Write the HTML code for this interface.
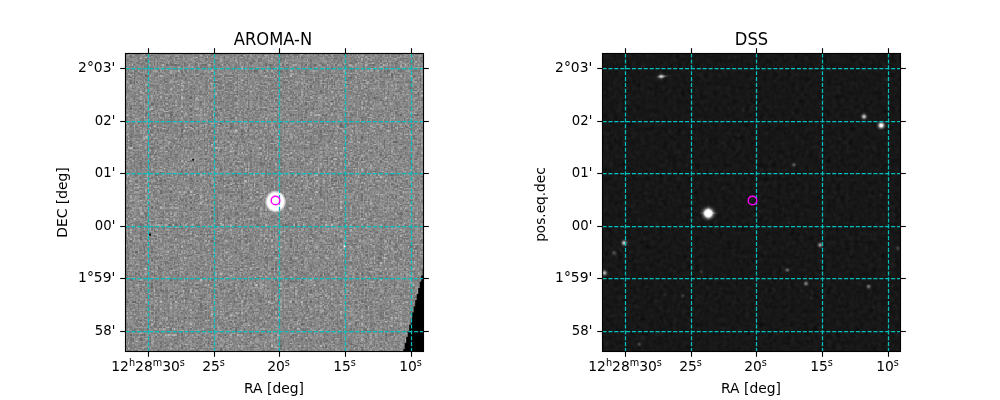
<!DOCTYPE html>
<html><head><meta charset="utf-8"><title>AROMA-N / DSS</title>
<style>
html,body{margin:0;padding:0;background:#fff;}
svg{display:block}
text{font-family:"DejaVu Sans","Liberation Sans",sans-serif;fill:#000}
.tl{font-size:13.89px}
.ti{font-size:16.67px}
.g{stroke:#00bfbf;stroke-width:1.25;stroke-dasharray:4.11 1.78;fill:none}
.t{stroke:#000;stroke-width:1.11}
.f{fill:none;stroke:#000;stroke-width:1.11}
.m{fill:none;stroke:#ff00ff;stroke-width:1.4}
</style></head><body>
<svg width="1000" height="400" viewBox="0 0 1000 400">
<defs>
<filter id="n1" filterUnits="userSpaceOnUse" x="125" y="53" width="300" height="300" color-interpolation-filters="sRGB">
<feTurbulence type="fractalNoise" baseFrequency="0.7" numOctaves="2" seed="3" result="t"/>
<feColorMatrix in="t" type="matrix" values="0.7 0.7 0.7 0.7 -0.85  0.7 0.7 0.7 0.7 -0.85  0.7 0.7 0.7 0.7 -0.85  0 0 0 0 1" result="n0"/>
<feComponentTransfer in="n0" result="n"><feFuncR type="gamma" amplitude="0.41" exponent="1.5" offset="0.362"/><feFuncG type="gamma" amplitude="0.41" exponent="1.5" offset="0.362"/><feFuncB type="gamma" amplitude="0.41" exponent="1.5" offset="0.362"/></feComponentTransfer>
<feFlood flood-color="#000" x="125" y="53" width="1" height="300" result="cx2f0"/>
<feFlood flood-color="#000" x="130" y="53" width="1" height="300" result="cx2f1"/>
<feFlood flood-color="#000" x="136" y="53" width="1" height="300" result="cx2f2"/>
<feMerge x="125" y="53" width="15" height="300" result="cx2m"><feMergeNode in="cx2f0"/><feMergeNode in="cx2f1"/><feMergeNode in="cx2f2"/></feMerge>
<feTile in="cx2m" result="cx2"/>
<feFlood flood-color="#000" x="127" y="53" width="3" height="300" result="cx1f0"/>
<feFlood flood-color="#000" x="132" y="53" width="4" height="300" result="cx1f1"/>
<feFlood flood-color="#000" x="138" y="53" width="2" height="300" result="cx1f2"/>
<feMerge x="125" y="53" width="15" height="300" result="cx1m"><feMergeNode in="cx1f0"/><feMergeNode in="cx1f1"/><feMergeNode in="cx1f2"/></feMerge>
<feTile in="cx1m" result="cx1"/>
<feComposite in="n" in2="cx2" operator="in" result="s0"/>
<feComposite in="n" in2="cx1" operator="in" result="s2"/>
<feOffset in="s0" dx="1" dy="0" result="s0o"/>
<feMerge result="h"><feMergeNode in="s0"/><feMergeNode in="s0o"/><feMergeNode in="s2"/></feMerge>
<feFlood flood-color="#000" x="125" y="53" width="300" height="1" result="cy2f0"/>
<feFlood flood-color="#000" x="125" y="59" width="300" height="1" result="cy2f1"/>
<feMerge x="125" y="53" width="300" height="11" result="cy2m"><feMergeNode in="cy2f0"/><feMergeNode in="cy2f1"/></feMerge>
<feTile in="cy2m" result="cy2"/>
<feFlood flood-color="#000" x="125" y="55" width="300" height="4" result="cy1f0"/>
<feFlood flood-color="#000" x="125" y="61" width="300" height="3" result="cy1f1"/>
<feMerge x="125" y="53" width="300" height="11" result="cy1m"><feMergeNode in="cy1f0"/><feMergeNode in="cy1f1"/></feMerge>
<feTile in="cy1m" result="cy1"/>
<feComposite in="h" in2="cy2" operator="in" result="r0"/>
<feComposite in="h" in2="cy1" operator="in" result="r2"/>
<feOffset in="r0" dx="0" dy="1" result="r0o"/>
<feMerge result="o"><feMergeNode in="r0"/><feMergeNode in="r0o"/><feMergeNode in="r2"/></feMerge>
<feConvolveMatrix in="o" order="3" kernelMatrix="0 1 0 1 8 1 0 1 0" divisor="12" edgeMode="duplicate" preserveAlpha="true"/>
</filter>
<filter id="n2" x="0" y="0" width="100%" height="100%" color-interpolation-filters="sRGB">
<feTurbulence type="fractalNoise" baseFrequency="0.22" numOctaves="2" seed="7" result="t"/>
<feColorMatrix in="t" type="matrix" values="0.045 0.045 0.045 0.045 0  0.045 0.045 0.045 0.045 0  0.045 0.045 0.045 0.045 0  0 0 0 0 1"/>
</filter>
<radialGradient id="s1"><stop offset="0" stop-color="#fff"/><stop offset="0.74" stop-color="#fff"/><stop offset="0.86" stop-color="#fff" stop-opacity="0.55"/><stop offset="1" stop-color="#fff" stop-opacity="0"/></radialGradient>
<radialGradient id="sb"><stop offset="0" stop-color="#fff"/><stop offset="0.3" stop-color="#fff"/><stop offset="0.44" stop-color="#fff" stop-opacity="0.88"/><stop offset="0.56" stop-color="#fff" stop-opacity="0.48"/><stop offset="0.7" stop-color="#fff" stop-opacity="0.2"/><stop offset="0.85" stop-color="#fff" stop-opacity="0.07"/><stop offset="1" stop-color="#fff" stop-opacity="0"/></radialGradient>
<radialGradient id="ss"><stop offset="0" stop-color="#fff"/><stop offset="0.2" stop-color="#fff" stop-opacity="0.85"/><stop offset="0.45" stop-color="#fff" stop-opacity="0.38"/><stop offset="0.7" stop-color="#fff" stop-opacity="0.1"/><stop offset="1" stop-color="#fff" stop-opacity="0"/></radialGradient>
<radialGradient id="sc"><stop offset="0" stop-color="#fff"/><stop offset="0.2" stop-color="#fff"/><stop offset="0.42" stop-color="#fff" stop-opacity="0.55"/><stop offset="0.7" stop-color="#fff" stop-opacity="0.12"/><stop offset="1" stop-color="#fff" stop-opacity="0"/></radialGradient>
<clipPath id="c1"><rect x="125.5" y="53.5" width="298" height="298"/></clipPath>
<clipPath id="c2"><rect x="602.5" y="53.5" width="298" height="298"/></clipPath>
</defs>
<rect width="1000" height="400" fill="#fff"/>
<!-- left image -->
<g clip-path="url(#c1)">
<rect x="125" y="53" width="299" height="299" fill="#828282"/>
<rect x="125" y="53" width="300" height="300" filter="url(#n1)"/>
<ellipse cx="275.5" cy="201.7" rx="10.9" ry="11.5" fill="url(#s1)"/>
<circle cx="147" cy="137" r="5" fill="url(#ss)" opacity="0.35"/>
<rect x="192.3" y="159" width="1.7" height="1.7" fill="#000"/>
<rect x="149" y="233.6" width="2" height="2" fill="#000"/>
<rect x="343.6" y="245.2" width="2" height="2" fill="#fff" opacity="0.9"/>
<path d="M425,352 L425,269.5 L422.7,269.5 L422.7,275.6 L421.2,275.6 L421.2,281.8 L419.7,281.8 L419.7,287.9 L418.2,287.9 L418.2,294.0 L416.7,294.0 L416.7,300.1 L415.2,300.1 L415.2,306.3 L413.7,306.3 L413.7,312.4 L412.2,312.4 L412.2,318.5 L410.7,318.5 L410.7,324.7 L409.2,324.7 L409.2,330.8 L407.7,330.8 L407.7,336.9 L406.2,336.9 L406.2,343.1 L404.7,343.1 L404.7,349.2 L403.2,349.2 L403.2,352.0 L403.2,352 Z" fill="#000"/>
</g>
<!-- right image -->
<g clip-path="url(#c2)">
<rect x="602" y="53" width="299" height="299" fill="#1a1a1a"/>
<rect x="602" y="53" width="299" height="299" filter="url(#n2)"/>
<ellipse cx="708.8" cy="213.10000000000002" rx="11" ry="1.7" fill="url(#ss)" opacity="0.7"/>
<ellipse cx="708.3" cy="213.3" rx="1.6" ry="10" fill="url(#ss)" opacity="0.45"/>
<circle cx="708.3" cy="213.3" r="8.5" fill="url(#sb)"/>
<ellipse cx="662.2" cy="76.5" rx="9.5" ry="2.2" fill="url(#ss)" opacity="0.4" transform="rotate(-5 661.2 76.5)"/>
<ellipse cx="661.2" cy="76.5" rx="5.2" ry="3.6" fill="url(#ss)" opacity="0.75"/>
<circle cx="864" cy="116.6" r="4.7" fill="url(#ss)" opacity="0.8"/>
<circle cx="881.25" cy="125.4" r="5.6" fill="url(#sc)"/>
<circle cx="793.8" cy="164.8" r="3.6" fill="url(#ss)" opacity="0.33"/>
<circle cx="881" cy="195" r="3" fill="url(#ss)" opacity="0.1"/>
<circle cx="887" cy="80" r="3" fill="url(#ss)" opacity="0.08"/>
<circle cx="743" cy="110" r="3" fill="url(#ss)" opacity="0.08"/>
<circle cx="624.2" cy="242.9" r="4.6" fill="url(#ss)" opacity="0.82"/>
<circle cx="614.1" cy="252.8" r="4" fill="url(#ss)" opacity="0.28"/>
<circle cx="604.4" cy="272.9" r="4.8" fill="url(#ss)" opacity="0.72"/>
<circle cx="701.5" cy="271.8" r="3.2" fill="url(#ss)" opacity="0.14"/>
<circle cx="682.8" cy="295.8" r="3.4" fill="url(#ss)" opacity="0.2"/>
<circle cx="664.4" cy="294.6" r="3" fill="url(#ss)" opacity="0.08"/>
<circle cx="639.2" cy="344.2" r="3.5" fill="url(#ss)" opacity="0.25"/>
<circle cx="675" cy="266" r="3" fill="url(#ss)" opacity="0.05"/>
<circle cx="820.2" cy="245" r="4.2" fill="url(#ss)" opacity="0.6"/>
<circle cx="787.4" cy="270" r="3.6" fill="url(#ss)" opacity="0.4"/>
<circle cx="806" cy="283.6" r="4" fill="url(#ss)" opacity="0.48"/>
<circle cx="868.6" cy="286.4" r="4" fill="url(#ss)" opacity="0.42"/>
<circle cx="789" cy="222" r="3" fill="url(#ss)" opacity="0.07"/>
<circle cx="886.6" cy="225.7" r="3" fill="url(#ss)" opacity="0.08"/>
<circle cx="897.8" cy="248.2" r="4" fill="url(#ss)" opacity="0.2"/>
<circle cx="888.8" cy="271.8" r="3" fill="url(#ss)" opacity="0.08"/>
<circle cx="811" cy="298" r="3" fill="url(#ss)" opacity="0.08"/>
</g>
<line x1="148.50" y1="53.5" x2="148.50" y2="351.5" class="g"/>
<line x1="214.50" y1="53.5" x2="214.50" y2="351.5" class="g"/>
<line x1="279.50" y1="53.5" x2="279.50" y2="351.5" class="g"/>
<line x1="345.50" y1="53.5" x2="345.50" y2="351.5" class="g"/>
<line x1="411.50" y1="53.5" x2="411.50" y2="351.5" class="g"/>
<line x1="125.5" y1="68.50" x2="423.5" y2="68.50" class="g"/>
<line x1="125.5" y1="121.50" x2="423.5" y2="121.50" class="g"/>
<line x1="125.5" y1="173.50" x2="423.5" y2="173.50" class="g"/>
<line x1="125.5" y1="226.50" x2="423.5" y2="226.50" class="g"/>
<line x1="125.5" y1="278.50" x2="423.5" y2="278.50" class="g"/>
<line x1="125.5" y1="331.50" x2="423.5" y2="331.50" class="g"/>
<line x1="148.50" y1="53.5" x2="148.50" y2="48.20" class="t"/>
<line x1="148.50" y1="351.5" x2="148.50" y2="356.80" class="t"/>
<line x1="214.50" y1="53.5" x2="214.50" y2="48.20" class="t"/>
<line x1="214.50" y1="351.5" x2="214.50" y2="356.80" class="t"/>
<line x1="279.50" y1="53.5" x2="279.50" y2="48.20" class="t"/>
<line x1="279.50" y1="351.5" x2="279.50" y2="356.80" class="t"/>
<line x1="345.50" y1="53.5" x2="345.50" y2="48.20" class="t"/>
<line x1="345.50" y1="351.5" x2="345.50" y2="356.80" class="t"/>
<line x1="411.50" y1="53.5" x2="411.50" y2="48.20" class="t"/>
<line x1="411.50" y1="351.5" x2="411.50" y2="356.80" class="t"/>
<line x1="125.5" y1="68.50" x2="120.20" y2="68.50" class="t"/>
<line x1="423.5" y1="68.50" x2="428.80" y2="68.50" class="t"/>
<line x1="125.5" y1="121.50" x2="120.20" y2="121.50" class="t"/>
<line x1="423.5" y1="121.50" x2="428.80" y2="121.50" class="t"/>
<line x1="125.5" y1="173.50" x2="120.20" y2="173.50" class="t"/>
<line x1="423.5" y1="173.50" x2="428.80" y2="173.50" class="t"/>
<line x1="125.5" y1="226.50" x2="120.20" y2="226.50" class="t"/>
<line x1="423.5" y1="226.50" x2="428.80" y2="226.50" class="t"/>
<line x1="125.5" y1="278.50" x2="120.20" y2="278.50" class="t"/>
<line x1="423.5" y1="278.50" x2="428.80" y2="278.50" class="t"/>
<line x1="125.5" y1="331.50" x2="120.20" y2="331.50" class="t"/>
<line x1="423.5" y1="331.50" x2="428.80" y2="331.50" class="t"/>
<rect x="125.5" y="53.5" width="298.0" height="298.0" class="f"/>
<text transform="translate(115.30,71.90) scale(1,1)" text-anchor="end" class="tl">2°03'</text>
<text transform="translate(115.30,124.90) scale(0.955,1)" text-anchor="end" class="tl">02'</text>
<text transform="translate(115.30,176.90) scale(0.955,1)" text-anchor="end" class="tl">01'</text>
<text transform="translate(115.30,229.90) scale(0.955,1)" text-anchor="end" class="tl">00'</text>
<text transform="translate(115.30,281.90) scale(1,1)" text-anchor="end" class="tl">1°59'</text>
<text transform="translate(115.30,334.90) scale(0.955,1)" text-anchor="end" class="tl">58'</text>
<text x="148.10" y="370.80" text-anchor="middle" class="tl">12<tspan dy="-5.3" font-size="9.72">h</tspan><tspan dy="5.3">28</tspan><tspan dy="-5.3" font-size="9.72">m</tspan><tspan dy="5.3">30</tspan><tspan dy="-5.3" font-size="9.72">s</tspan></text>
<text x="213.50" y="370.80" text-anchor="middle" class="tl">25<tspan dy="-5.3" font-size="9.72">s</tspan></text>
<text x="278.50" y="370.80" text-anchor="middle" class="tl">20<tspan dy="-5.3" font-size="9.72">s</tspan></text>
<text x="344.50" y="370.80" text-anchor="middle" class="tl">15<tspan dy="-5.3" font-size="9.72">s</tspan></text>
<text x="410.50" y="370.80" text-anchor="middle" class="tl">10<tspan dy="-5.3" font-size="9.72">s</tspan></text>
<line x1="625.50" y1="53.5" x2="625.50" y2="351.5" class="g"/>
<line x1="691.50" y1="53.5" x2="691.50" y2="351.5" class="g"/>
<line x1="756.50" y1="53.5" x2="756.50" y2="351.5" class="g"/>
<line x1="822.50" y1="53.5" x2="822.50" y2="351.5" class="g"/>
<line x1="888.50" y1="53.5" x2="888.50" y2="351.5" class="g"/>
<line x1="602.5" y1="68.50" x2="900.5" y2="68.50" class="g"/>
<line x1="602.5" y1="121.50" x2="900.5" y2="121.50" class="g"/>
<line x1="602.5" y1="173.50" x2="900.5" y2="173.50" class="g"/>
<line x1="602.5" y1="226.50" x2="900.5" y2="226.50" class="g"/>
<line x1="602.5" y1="278.50" x2="900.5" y2="278.50" class="g"/>
<line x1="602.5" y1="331.50" x2="900.5" y2="331.50" class="g"/>
<line x1="625.50" y1="53.5" x2="625.50" y2="48.20" class="t"/>
<line x1="625.50" y1="351.5" x2="625.50" y2="356.80" class="t"/>
<line x1="691.50" y1="53.5" x2="691.50" y2="48.20" class="t"/>
<line x1="691.50" y1="351.5" x2="691.50" y2="356.80" class="t"/>
<line x1="756.50" y1="53.5" x2="756.50" y2="48.20" class="t"/>
<line x1="756.50" y1="351.5" x2="756.50" y2="356.80" class="t"/>
<line x1="822.50" y1="53.5" x2="822.50" y2="48.20" class="t"/>
<line x1="822.50" y1="351.5" x2="822.50" y2="356.80" class="t"/>
<line x1="888.50" y1="53.5" x2="888.50" y2="48.20" class="t"/>
<line x1="888.50" y1="351.5" x2="888.50" y2="356.80" class="t"/>
<line x1="602.5" y1="68.50" x2="597.20" y2="68.50" class="t"/>
<line x1="900.5" y1="68.50" x2="905.80" y2="68.50" class="t"/>
<line x1="602.5" y1="121.50" x2="597.20" y2="121.50" class="t"/>
<line x1="900.5" y1="121.50" x2="905.80" y2="121.50" class="t"/>
<line x1="602.5" y1="173.50" x2="597.20" y2="173.50" class="t"/>
<line x1="900.5" y1="173.50" x2="905.80" y2="173.50" class="t"/>
<line x1="602.5" y1="226.50" x2="597.20" y2="226.50" class="t"/>
<line x1="900.5" y1="226.50" x2="905.80" y2="226.50" class="t"/>
<line x1="602.5" y1="278.50" x2="597.20" y2="278.50" class="t"/>
<line x1="900.5" y1="278.50" x2="905.80" y2="278.50" class="t"/>
<line x1="602.5" y1="331.50" x2="597.20" y2="331.50" class="t"/>
<line x1="900.5" y1="331.50" x2="905.80" y2="331.50" class="t"/>
<rect x="602.5" y="53.5" width="298.0" height="298.0" class="f"/>
<text transform="translate(592.30,71.90) scale(1,1)" text-anchor="end" class="tl">2°03'</text>
<text transform="translate(592.30,124.90) scale(0.955,1)" text-anchor="end" class="tl">02'</text>
<text transform="translate(592.30,176.90) scale(0.955,1)" text-anchor="end" class="tl">01'</text>
<text transform="translate(592.30,229.90) scale(0.955,1)" text-anchor="end" class="tl">00'</text>
<text transform="translate(592.30,281.90) scale(1,1)" text-anchor="end" class="tl">1°59'</text>
<text transform="translate(592.30,334.90) scale(0.955,1)" text-anchor="end" class="tl">58'</text>
<text x="625.10" y="370.80" text-anchor="middle" class="tl">12<tspan dy="-5.3" font-size="9.72">h</tspan><tspan dy="5.3">28</tspan><tspan dy="-5.3" font-size="9.72">m</tspan><tspan dy="5.3">30</tspan><tspan dy="-5.3" font-size="9.72">s</tspan></text>
<text x="690.50" y="370.80" text-anchor="middle" class="tl">25<tspan dy="-5.3" font-size="9.72">s</tspan></text>
<text x="755.50" y="370.80" text-anchor="middle" class="tl">20<tspan dy="-5.3" font-size="9.72">s</tspan></text>
<text x="821.50" y="370.80" text-anchor="middle" class="tl">15<tspan dy="-5.3" font-size="9.72">s</tspan></text>
<text x="887.50" y="370.80" text-anchor="middle" class="tl">10<tspan dy="-5.3" font-size="9.72">s</tspan></text>
<circle cx="275.5" cy="200.5" r="4.3" class="m"/>
<circle cx="752.5" cy="200.5" r="4.3" class="m"/>
<text transform="translate(273.0,44.8) scale(0.98,1.05)" text-anchor="middle" class="ti">AROMA-N</text>
<text transform="translate(751.5,44.8) scale(0.98,1.05)" text-anchor="middle" class="ti">DSS</text>
<text x="274.0" y="392.8" text-anchor="middle" class="tl">RA [deg]</text>
<text x="751.0" y="392.8" text-anchor="middle" class="tl">RA [deg]</text>
<text transform="translate(67,202.5) rotate(-90)" text-anchor="middle" class="tl">DEC [deg]</text>
<text transform="translate(544.8,204.6) rotate(-90) scale(0.985,1)" text-anchor="middle" class="tl">pos.eq.dec</text>
</svg>
</body></html>
